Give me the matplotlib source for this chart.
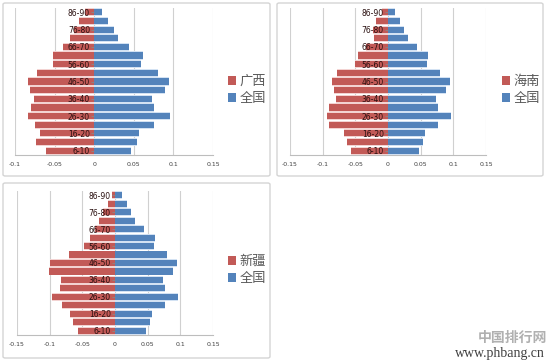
import matplotlib.pyplot as plt
from matplotlib.patches import FancyBboxPatch

plt.rcParams['font.family'] = ['Noto Sans CJK SC', 'DejaVu Sans']
plt.rcParams['axes.unicode_minus'] = False

ages = ['6-10', '11-15', '16-20', '21-25', '26-30', '31-35', '36-40', '41-45', '46-50',
        '51-55', '56-60', '61-65', '66-70', '71-75', '76-80', '81-85', '86-90']

national = [0.047, 0.054, 0.057, 0.076, 0.096, 0.076, 0.073, 0.089, 0.095,
            0.080, 0.059, 0.061, 0.044, 0.030, 0.025, 0.018, 0.010]
guangxi = [-0.061, -0.073, -0.069, -0.075, -0.084, -0.080, -0.076, -0.081, -0.083,
           -0.072, -0.052, -0.052, -0.039, -0.030, -0.026, -0.019, -0.011]
hainan = [-0.057, -0.062, -0.067, -0.091, -0.094, -0.090, -0.079, -0.083, -0.086,
          -0.078, -0.051, -0.046, -0.033, -0.022, -0.023, -0.018, -0.009]
xinjiang = [-0.057, -0.064, -0.069, -0.081, -0.097, -0.084, -0.083, -0.101, -0.099,
            -0.071, -0.047, -0.039, -0.031, -0.025, -0.019, -0.010, -0.004]

W, H = 557, 364
RED, RED_LIGHT = '#c25a57', '#f3d3d2'
BLUE, BLUE_LIGHT = '#5383bb', '#d3e2f3'

fig = plt.figure(figsize=(W / 100, H / 100), dpi=100)


def px_axes(x0, y0, x1, y1):
    ax = fig.add_axes([x0 / W, 1 - y1 / H, (x1 - x0) / W, (y1 - y0) / H])
    ax.patch.set_alpha(0)
    return ax


def frame(x0, y0, x1, y1):
    fig.patches.append(FancyBboxPatch((x0 / W, 1 - y1 / H), (x1 - x0) / W, (y1 - y0) / H,
                                      boxstyle='round,pad=0,rounding_size=0.004',
                                      transform=fig.transFigure, facecolor='none',
                                      edgecolor='#d4d4d4', linewidth=1.0, zorder=-1))


def pyramid(box, xmin, ticks, region, name, leg_xy):
    ax = px_axes(*box)
    # spine position first: moving it resets the tick label styling
    ax.spines['left'].set_position(('data', 0))
    ax.spines['left'].set_visible(False)
    ax.spines['top'].set_visible(False)
    ax.spines['right'].set_visible(False)
    ax.spines['bottom'].set_color('#bdbdbd')
    ax.spines['bottom'].set_linewidth(0.8)

    y = list(range(len(ages)))
    ax.barh(y, region, height=0.95, color=RED_LIGHT, zorder=1)
    ax.barh(y, national, height=0.95, color=BLUE_LIGHT, zorder=1)
    r = ax.barh(y, region, height=0.72, color=RED, zorder=1.5)
    b = ax.barh(y, national, height=0.72, color=BLUE, zorder=1.5)
    ax.set_axisbelow(False)
    ax.set_xlim(xmin, 0.15)
    ax.set_ylim(-0.5, len(ages) - 0.5)
    ax.set_xticks(ticks)
    ax.set_xticklabels([('%g' % t) for t in ticks], family='DejaVu Sans')
    ax.set_yticks(y[::2])
    ax.set_yticklabels(ages[::2], family='DejaVu Sans')
    ax.tick_params(axis='x', length=0, pad=5, labelsize=4.5, labelcolor='#404040')
    ax.tick_params(axis='y', length=2, width=0.6, color='#888888', pad=1,
                   labelsize=5.5, labelcolor='#2a1010')
    for t in ticks:
        ax.axvline(t, color='#d0d0d0', lw=0.8, zorder=0.5)
    fig.legend([r, b], [name, '全国'], loc='center', bbox_to_anchor=(leg_xy[0] / W, 1 - leg_xy[1] / H),
               frameon=False, fontsize=9.5, labelcolor='#595959', handlelength=0.6,
               handleheight=0.6, handletextpad=0.3, labelspacing=0.3)
    return ax


frame(3, 3, 270, 176)
frame(277, 3, 543, 176)
frame(3, 183, 270, 358)

pyramid((15, 8, 213, 155), -0.1, [-0.1, -0.05, 0, 0.05, 0.1, 0.15], guangxi, '广西', (247, 90))
pyramid((290, 8, 486, 155), -0.15, [-0.15, -0.1, -0.05, 0, 0.05, 0.1, 0.15], hainan, '海南', (521, 90))
pyramid((17, 191, 213, 335), -0.15, [-0.15, -0.1, -0.05, 0, 0.05, 0.1, 0.15], xinjiang, '新疆', (247, 270))

fig.text(512 / W, 1 - 338 / H, '中国排行网', fontsize=10, color='#b0b0b0', fontweight='bold',
         ha='center', va='center')
fig.text(500 / W, 1 - 354 / H, 'www.phbang.cn', fontsize=10, color='#404040',
         family='Liberation Serif', ha='center', va='center')

fig.savefig('out.png', dpi=100)
